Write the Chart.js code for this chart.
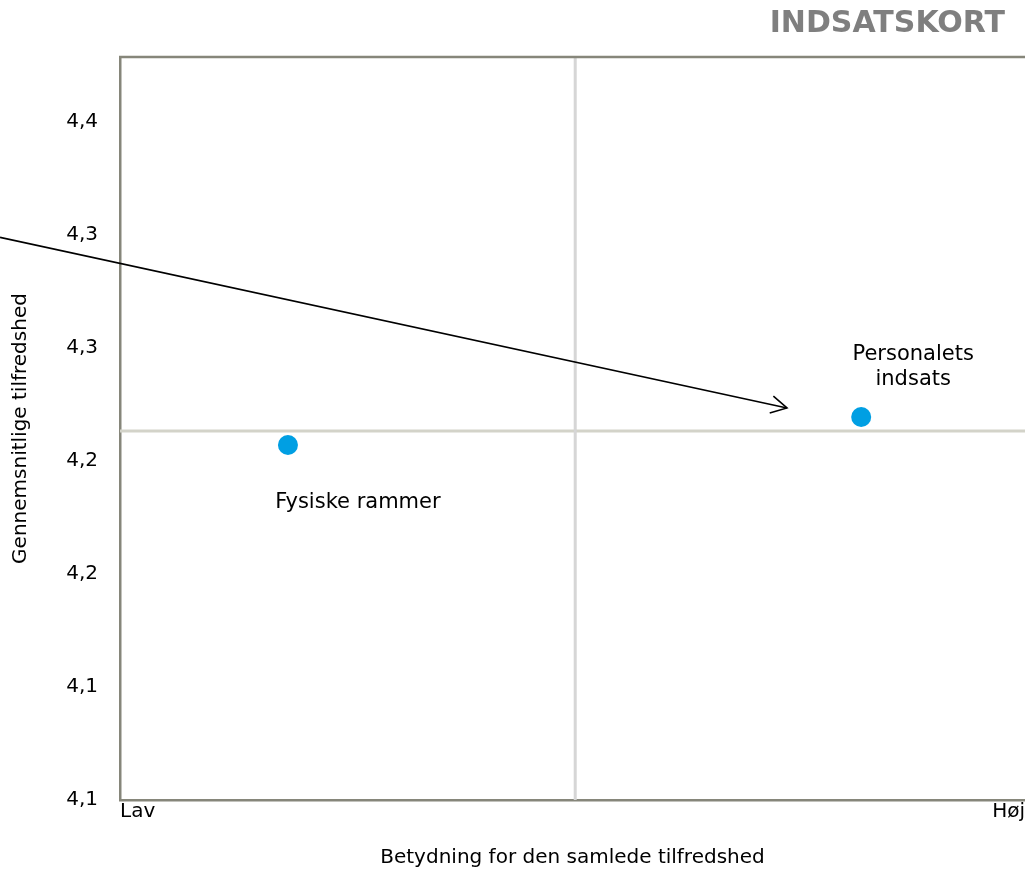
<!DOCTYPE html>
<html>
<head>
<meta charset="utf-8">
<script src="https://cdn.jsdelivr.net/npm/chart.js@4/dist/chart.umd.min.js"></script>
<style>
  html, body { margin: 0; padding: 0; background: #fff; overflow: hidden; }
  #wrap { position: relative; width: 1025px; height: 872px; overflow: hidden; }
  #cv { position: absolute; left: 0; top: 0; }
  #title { position: absolute; right: 20px; top: 4px; font-family: "DejaVu Sans", Verdana, sans-serif;
           font-weight: bold; font-size: 30px; color: #7f7f7f; }
</style>
</head>
<body>
<div id="wrap">
  <canvas id="cv" width="1035" height="872" style="width:1035px;height:872px"></canvas>
  <div id="title">INDSATSKORT</div>
</div>
<script>
// ---- data ----
const categories = ["Personalets indsats", "Fysiske rammer"];
const importance = [0.819, 0.1856];     // x: Betydning (Lav..Høj)
const satisfaction = [4.2695, 4.2571];  // y: Gennemsnitlige tilfredshed
const meanImportance = [0.503];
const meanSatisfaction = [4.2633];
const yTickValues = [4.10, 4.15, 4.20, 4.25, 4.30, 4.35, 4.40];
const yTickLabels = ["4,1", "4,1", "4,2", "4,2", "4,3", "4,3", "4,4"];
const xTickValues = [0, 1];
const xTickLabels = ["Lav", "Høj"];
const yRange = [4.10, 4.4288];
const xRange = [0, 1];
const arrowFrom = [-0.1326, 4.349];
const arrowTo = [0.737, 4.2735];

// ---- styling ----
const FONT = '"DejaVu Sans", Verdana, sans-serif';
const labelOffsets = [{dx: 52, dy: -62, dy2: -37}, {dx: 70, dy: 58}];
const pointColor = '#009fe3';
const axisColor = '#86867a';

const pointLabels = {
  id: 'pointLabels',
  afterDatasetsDraw(chart) {
    const ctx = chart.ctx;
    const meta = chart.getDatasetMeta(2);
    ctx.save();
    ctx.fillStyle = '#000';
    ctx.font = '21px ' + FONT;
    ctx.textAlign = 'center';
    ctx.textBaseline = 'middle';
    meta.data.forEach((pt, i) => {
      const off = labelOffsets[i];
      const name = categories[i];
      if (i === 0) {
        const parts = name.split(' ');
        ctx.fillText(parts[0], pt.x + off.dx, pt.y + off.dy);
        ctx.fillText(parts[1], pt.x + off.dx, pt.y + off.dy2);
      } else {
        ctx.fillText(name, pt.x + off.dx, pt.y + off.dy);
      }
    });
    ctx.restore();
  }
};

const frameAndArrow = {
  id: 'frameAndArrow',
  afterDraw(chart) {
    const ctx = chart.ctx;
    const ca = chart.chartArea;
    const xs = chart.scales.x, ys = chart.scales.y;
    ctx.save();
    ctx.strokeStyle = axisColor;
    ctx.lineWidth = 2.5;
    ctx.beginPath();
    ctx.moveTo(ca.left - 1, ca.top);
    ctx.lineTo(ca.right, ca.top);
    ctx.stroke();
    const x1 = xs.getPixelForValue(arrowFrom[0]), y1 = ys.getPixelForValue(arrowFrom[1]);
    const x2 = xs.getPixelForValue(arrowTo[0]), y2 = ys.getPixelForValue(arrowTo[1]);
    ctx.strokeStyle = '#000';
    ctx.lineWidth = 1.6;
    ctx.beginPath();
    ctx.moveTo(x1, y1);
    ctx.lineTo(x2, y2);
    ctx.stroke();
    const ang = Math.atan2(y2 - y1, x2 - x1);
    const L = 18, a = 0.5;
    ctx.beginPath();
    ctx.moveTo(x2 - L * Math.cos(ang - a), y2 - L * Math.sin(ang - a));
    ctx.lineTo(x2, y2);
    ctx.lineTo(x2 - L * Math.cos(ang + a), y2 - L * Math.sin(ang + a));
    ctx.stroke();
    ctx.restore();
  }
};

new Chart(document.getElementById('cv'), {
  type: 'scatter',
  data: {
    datasets: [
      {
        type: 'line',
        data: [{x: meanImportance[0], y: yRange[0]}, {x: meanImportance[0], y: yRange[1]}],
        borderColor: '#d6d6d6', borderWidth: 3, pointRadius: 0, showLine: true, fill: false
      },
      {
        type: 'line',
        data: [{x: xRange[0], y: meanSatisfaction[0]}, {x: xRange[1], y: meanSatisfaction[0]}],
        borderColor: '#d3d3c9', borderWidth: 3, pointRadius: 0, showLine: true, fill: false
      },
      {
        data: importance.map((v, i) => ({x: v, y: satisfaction[i]})),
        backgroundColor: pointColor, borderColor: pointColor,
        pointRadius: 10, pointHoverRadius: 10, borderWidth: 0
      }
    ]
  },
  options: {
    responsive: false,
    animation: false,
    events: [],
    layout: { padding: { top: 57, left: 0, right: 0, bottom: 0 } },
    plugins: { legend: { display: false }, tooltip: { enabled: false }, title: { display: false } },
    scales: {
      x: {
        type: 'linear', min: xRange[0], max: xRange[1],
        afterBuildTicks: s => { s.ticks = xTickValues.map(v => ({value: v})); },
        afterFit: s => { s.height = 72; },
        grid: { display: false, drawTicks: false },
        border: { display: true, color: axisColor, width: 2.5 },
        ticks: {
          align: 'inner', padding: 0, color: '#000', font: { family: FONT, size: 20 },
          callback: (v, i) => xTickLabels[i]
        },
        title: {
          display: true, text: 'Betydning for den samlede tilfredshed', color: '#000',
          font: { family: FONT, size: 20 }, padding: { top: 4, bottom: 2 }
        }
      },
      y: {
        type: 'linear', min: yRange[0], max: yRange[1],
        afterBuildTicks: s => { s.ticks = yTickValues.map(v => ({value: v})); },
        afterFit: s => { s.width = 120; },
        grid: { display: false, drawTicks: false },
        border: { display: true, color: axisColor, width: 2.5 },
        ticks: {
          padding: 22, color: '#000', font: { family: FONT, size: 20 },
          callback: (v, i) => yTickLabels[i]
        },
        title: {
          display: true, text: 'Gennemsnitlige tilfredshed', color: '#000',
          font: { family: FONT, size: 20 }, padding: { top: 9, bottom: 4 }
        }
      }
    }
  },
  plugins: [pointLabels, frameAndArrow]
});
</script>
</body>
</html>
